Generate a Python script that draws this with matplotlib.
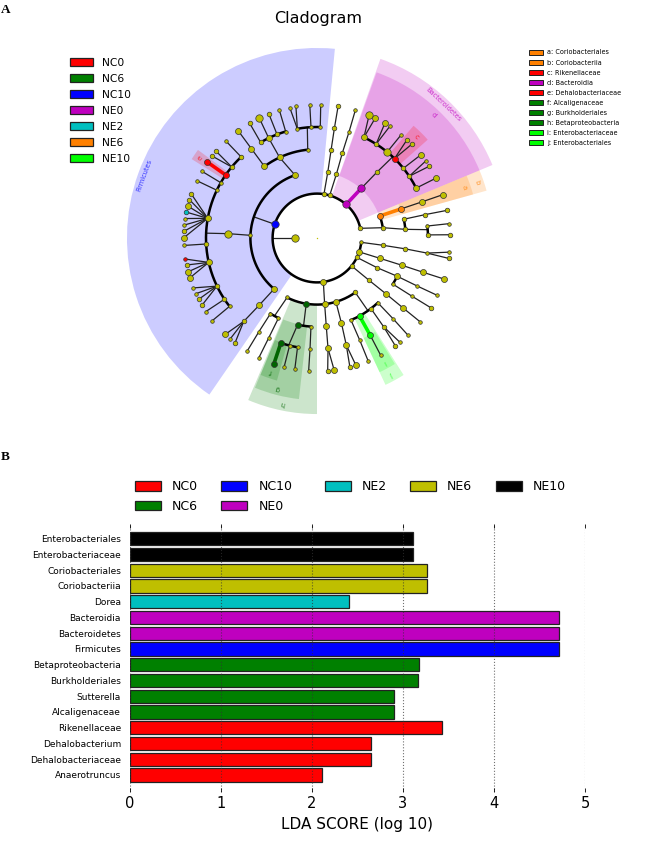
#!/usr/bin/env python
import numpy as np
import matplotlib
matplotlib.use("Agg")
import matplotlib.pyplot as plt
from matplotlib.patches import Patch

# LDA bars, listed from the top row down
taxa = ["Enterobacteriales", "Enterobacteriaceae", "Coriobacteriales", "Coriobacteriia",
        "Dorea", "Bacteroidia", "Bacteroidetes", "Firmicutes", "Betaproteobacteria",
        "Burkholderiales", "Sutterella", "Alcaligenaceae", "Rikenellaceae",
        "Dehalobacterium", "Dehalobacteriaceae", "Anaerotruncus"]
lda_scores = [3.11, 3.11, 3.26, 3.26, 2.41, 4.71, 4.71, 4.71, 3.175, 3.17, 2.906, 2.906,
              3.43, 2.645, 2.645, 2.115]
taxa_group = ["NE10", "NE10", "NE6", "NE6", "NE2", "NE0", "NE0", "NC10", "NC6", "NC6", "NC6",
              "NC6", "NC0", "NC0", "NC0", "NC0"]
groups = ["NC0", "NC6", "NC10", "NE0", "NE2", "NE6", "NE10"]
bar_colors = {"NC0": "#ff0000", "NC6": "#008000", "NC10": "#0000ff", "NE0": "#bf00bf",
              "NE2": "#00bfbf", "NE6": "#bfbf00", "NE10": "#000000"}
clade_colors = {"NC0": "#ff0000", "NC6": "#008000", "NC10": "#0000ff", "NE0": "#bf00bf",
                "NE2": "#00bfbf", "NE6": "#ff8000", "NE10": "#00ff00"}
node_colors = dict(clade_colors, NC6="#006400")

clade_key = ["a: Coriobacteriales", "b: Coriobacteriia", "c: Rikenellaceae", "d: Bacteroidia",
             "e: Dehalobacteriaceae", "f: Alcaligenaceae", "g: Burkholderiales",
             "h: Betaproteobacteria", "i: Enterobacteriaceae", "j: Enterobacteriales"]
clade_key_group = ["NE6", "NE6", "NC0", "NE0", "NC0", "NC6", "NC6", "NC6", "NE10", "NE10"]

# cladogram nodes per rank: (clock angle in degrees, abundance class, enriched group)
rank1 = [(-90, 4)]
rank2 = [(9, 2), (16.6, 2), (41, 4, "NE0"), (77.4, 2), (95.6, 1), (108.2, 3), (115.9, 2),
         (128.9, 2), (171.8, 3), (-72, 4, "NC10")]
rank3 = [(9.3, 2), (16.9, 2), (41.7, 4, "NE0"), (70.7, 3, "NE6"), (81.1, 2), (96.3, 2), (107.9, 3),
         (116.3, 2), (129.1, 2), (144.9, 2), (163.5, 3), (173.4, 3), (189.3, 3, "NC6"), (206.7, 1),
         (-19.3, 3), (-87.7, 1), (-139.9, 3)]
rank4 = [(9.1, 2), (16.6, 2), (42.3, 2), (70.9, 3, "NE6"), (77.8, 2), (84.4, 2), (97, 2), (107.8, 3),
         (115.5, 3), (121.3, 1), (129, 3), (136.8, 1), (142.6, 2), (151.4, 3, "NE10"), (157.5, 1),
         (164, 3), (174, 3), (183.9, 1), (192.6, 3, "NC6"), (205.7, 1), (211.6, 1), (-36.3, 3),
         (-24.9, 3), (-6, 1), (-87.2, 4), (-139.3, 3)]
rank5 = [(9, 2), (16.8, 1), (25, 3), (32.2, 2), (39.2, 4), (44.3, 3, "NC0"), (51.1, 2), (56.2, 2),
         (63.3, 3), (71, 3), (77.8, 2), (83.8, 1), (88.4, 2), (97.8, 1), (107.9, 3), (115.6, 1),
         (121.5, 1), (129.1, 3), (136.7, 1), (143.1, 2), (151.3, 3, "NE10"), (157.3, 1), (164.7, 3),
         (174.3, 3), (183.6, 1), (190.1, 1), (194.3, 1), (199, 3, "NC6"), (205.8, 1), (211.8, 1),
         (-36.3, 3), (-30.5, 2), (-25.8, 3), (-21.1, 2), (-16.4, 1), (-10.2, 1), (-3.1, 1), (1.7, 1),
         (-43.1, 2), (-50.2, 2), (-55.4, 3, "NC0"), (-60.1, 1), (-64.5, 1), (-79.8, 3), (-93.1, 2),
         (-102.7, 3), (-115.7, 2), (-123.5, 2), (-128, 1), (-138.7, 2)]
rank6 = [(9.1, 2), (16.7, 1), (23, 4), (25.9, 3), (30.6, 3), (33.1, 1), (39.2, 1), (42.5, 2), (45.3, 2),
         (51.3, 3), (54.7, 1), (57.4, 2), (63.3, 3), (71, 3), (78, 2), (83.8, 1), (88.6, 2), (96.1, 1),
         (98.8, 2), (107.9, 3), (115.5, 1), (121.5, 2), (129.1, 1), (136.9, 1), (141.5, 1), (144, 2),
         (151.5, 1), (157.4, 1), (163, 3), (165.7, 2), (172.6, 3), (175.4, 2), (183.6, 1), (189.6, 1),
         (194.3, 1), (198.9, 3, "NC6"), (205.9, 1), (211.7, 1), (-36.3, 3), (-30.4, 2), (-25.7, 4),
         (-21.2, 2), (-16.4, 1), (-11.8, 1), (-9.1, 1), (-3.1, 1), (1.6, 1), (-43.2, 1), (-49.3, 2),
         (-52, 2), (-55.3, 3, "NC0"), (-59.9, 1), (-64.5, 1), (-70.7, 2), (-73.3, 2), (-76.1, 3),
         (-78.8, 2, "NE2"), (-81.6, 1), (-84.4, 1), (-87.1, 2), (-89.9, 3), (-93.2, 1), (-99.1, 1, "NC0"),
         (-101.7, 2), (-104.7, 3), (-107.4, 3), (-112, 1), (-114.7, 1), (-117.4, 2), (-120.3, 2),
         (-123.5, 1), (-128.3, 1), (-136.4, 3), (-139.3, 1), (-142, 2)]
node_ranks = {1: rank1, 2: rank2, 3: rank3, 4: rank4, 5: rank5, 6: rank6}

# thin branches as chains of (rank, angle)
chains = [[(1, -90), (2, -90)],
          [(2, 9), (3, 9.3), (4, 9.1), (5, 9)], [(2, 16.6), (3, 16.9), (4, 16.6), (5, 16.8)],
          [(3, 41.7), (4, 42.3), (5, 43)], [(2, 77.4), (3, 81.1), (4, 84.4), (5, 85.7)],
          [(4, 70.9), (5, 71)], [(4, 77.8), (5, 77.8)],
          [(2, 95.6), (3, 96.3), (4, 97), (5, 97.8)], [(2, 108.2), (3, 107.9), (4, 107.8), (5, 107.9)],
          [(2, 115.9), (3, 116.3), (4, 115.5), (5, 115.6)], [(4, 121.3), (5, 121.5)],
          [(2, 128.9), (3, 129.1), (4, 129), (5, 129.1)],
          [(2, 171.8), (3, 173.4), (4, 174), (5, 174.3)], [(3, 144.9), (4, 145)],
          [(4, 136.8), (5, 136.7)], [(4, 142.6), (5, 143.1)], [(4, 157.5), (5, 157.3)],
          [(3, 163.5), (4, 164), (5, 164.7)], [(3, 189.3), (4, 188.7)], [(4, 183.9), (5, 183.6)],
          [(4, 192.6), (5, 194.8)], [(3, 206.7), (4, 208.6)], [(4, 205.7), (5, 205.8)],
          [(4, 211.6), (5, 211.8)], [(2, -72), (3, -71.5)], [(3, -19.3), (4, -24.9), (5, -25.8)],
          [(4, -36.3), (5, -36.3)], [(4, -6), (5, -5)], [(3, -87.7), (4, -87.2), (5, -87.5)],
          [(3, -139.9), (4, -139.3), (5, -138.7)]]

# leaves hanging off each rank 5 node
leaf_fans = {25: [23, 25.9], 32.2: [30.6, 33.1], 39.2: [39.2], 44.3: [42.5, 45.3], 51.1: [51.3],
             56.2: [54.7, 57.4], 63.3: [63.3], 71: [71], 77.8: [78], 83.8: [83.8], 88.4: [88.6],
             9: [9.1], 16.8: [16.7], 97.8: [96.1, 98.8], 107.9: [107.9], 115.6: [115.5], 121.5: [121.5],
             129.1: [129.1], 136.7: [136.9], 143.1: [141.5, 144], 151.3: [151.5], 157.3: [157.4],
             164.7: [163, 165.7], 174.3: [172.6, 175.4], 183.6: [183.6], 190.1: [189.6], 194.3: [194.3],
             205.8: [205.9], 211.8: [211.7], -36.3: [-36.3], -30.5: [-30.4], -25.8: [-25.7], -21.1: [-21.2],
             -16.4: [-16.4], -10.2: [-11.8, -9.1], -3.1: [-3.1], 1.7: [1.6], -43.1: [-43.2],
             -50.2: [-49.3, -52], -60.1: [-59.9], -64.5: [-64.5],
             -79.8: [-70.7, -73.3, -76.1, -78.8, -81.6, -84.4, -87.1, -89.9], -93.1: [-93.2],
             -102.7: [-99.1, -101.7, -104.7, -107.4], -115.7: [-112, -114.7, -117.4, -120.3],
             -123.5: [-123.5], -128: [-128.3], -138.7: [-136.4, -139.3, -142]}

# coloured thick branches: (rank, angle, rank, angle, group)
thick_branches = [(2, 41, 3, 41.7, "NE0"), (3, 70.7, 4, 70.9, "NE6"), (4, 151.4, 5, 151.3, "NE10"),
                  (5, 199, 6, 198.9, "NC6"), (5, -55.4, 6, -55.3, "NC0")]

# sibling arcs: (rank, start angle, end angle)
arcs = [(2, 95.6, 437.4), (3, 70.7, 81.1), (3, 144.9, 206.7), (3, -139.9, -19.3),
        (4, 77.8, 84.4), (4, 115.5, 121.3), (4, 136.8, 157.5), (4, 183.9, 192.6), (4, 205.7, 211.6),
        (4, -36.3, -6), (5, 25, 63.3), (5, 83.8, 88.4), (5, 190.1, 199), (5, -30.5, -16.4),
        (5, -10.2, 1.7), (5, -128, -43.1)]

# shaded clades: (rank, start angle, end angle, group, letter)
shades = [(2, -145.5, 5.4, "NC10", "Firmicutes"), (2, 19.5, 67.4, "NE0", "Bacteroidetes"),
          (3, 19.8, 67.4, "NE0", "d"), (3, 67.4, 74.4, "NE6", "b"), (4, 67.4, 74.4, "NE6", "a"),
          (5, 40.7, 48.4, "NC0", "c"), (5, -57.8, -53.5, "NC0", "e"), (3, 180, 203, "NC6", "h"),
          (4, 186.4, 202.5, "NC6", "g"), (5, 195.7, 202.4, "NC6", "f"),
          (4, 147.7, 155, "NE10", "j"), (5, 148.3, 155, "NE10", "i")]

W, H = 650, 849
fig = plt.figure(figsize=(W / 100, H / 100), dpi=100)

fig.text(1 / W, 1 - 10 / H, "A", family="Liberation Serif", weight="bold", size=9.5, va="center")
fig.text(1 / W, 1 - 457 / H, "B", family="Liberation Serif", weight="bold", size=9.5, va="center")
fig.text(318 / W, 1 - 18 / H, "Cladogram", size=11.5, ha="center", va="center")

# cladogram
rank_px = 22.2
rmax = 9
cx, cy = 317, 238
ax = fig.add_axes([(cx - rmax * rank_px) / W, 1 - (cy + rmax * rank_px) / H,
                   2 * rmax * rank_px / W, 2 * rmax * rank_px / H], polar=True)
ax.set_theta_zero_location("N")
ax.set_theta_direction(-1)


def outer_edge(rank):
    return 8.56 - 0.63 * (rank - 2)


for rank, a1, a2, group, label in shades:
    inner = rank - 0.03
    outer = outer_edge(rank)
    col = clade_colors[group]
    ax.bar(np.radians((a1 + a2) / 2), outer - inner, width=np.radians(a2 - a1), bottom=inner,
           color=col, alpha=0.2, linewidth=0.5, zorder=1)
    mid = (a1 + a2) / 2
    size = 4.8 if len(label) > 1 else 5
    ax.text(np.radians(mid), outer - 0.3, label, color=node_colors[group], size=size, rotation=-mid,
            alpha=0.75, rotation_mode="anchor", ha="center", va="center", zorder=6)

for chain in chains:
    ax.plot([np.radians(c[1]) for c in chain], [c[0] for c in chain], color="#222222", lw=0.9, zorder=2)
for parent, leaves in leaf_fans.items():
    for leaf in leaves:
        ax.plot(np.radians([parent, leaf]), [5, 6], color="#222222", lw=0.9, zorder=2)
for r1, a1, r2, a2, group in thick_branches:
    ax.plot(np.radians([a1, a2]), [r1, r2], color=node_colors[group], lw=2.6, zorder=3,
            solid_capstyle="butt")
for rank, a1, a2 in arcs:
    theta = np.radians(np.linspace(a1, a2, 200))
    ax.plot(theta, np.full_like(theta, rank), color="black", lw=1.8, zorder=3)

size_px = {1: 3.6, 2: 4.6, 3: 6, 4: 7.4}
for rank, nodes in node_ranks.items():
    for node in nodes:
        col = node_colors[node[2]] if len(node) > 2 else "#bfbf00"
        ax.scatter(np.radians(node[0]), rank, s=(size_px[node[1]] * 0.72) ** 2, color=col,
                   edgecolor="#333333", linewidth=0.5, zorder=4)
ax.scatter([0], [0], s=1, color="#bfbf00", linewidth=0, zorder=4)

ax.set_xlim(0, 2 * np.pi)
ax.set_rlim(0, rmax)
ax.set_axis_off()

fig.legend(handles=[Patch(facecolor=clade_colors[g], edgecolor="#222222", linewidth=0.9, label=g) for g in groups],
           loc="upper left", bbox_to_anchor=(70 / W, 1 - 58 / H), frameon=False, fontsize=7.7,
           borderpad=0, borderaxespad=0, labelspacing=0.56, handlelength=2.15, handleheight=0.75,
           handletextpad=0.85)
fig.legend(handles=[Patch(facecolor=clade_colors[g], edgecolor="#222222", linewidth=0.7, label=k)
                    for k, g in zip(clade_key, clade_key_group)],
           loc="upper left", bbox_to_anchor=(529 / W, 1 - 49.5 / H), frameon=False, fontsize=4.7,
           borderpad=0, borderaxespad=0, labelspacing=0.62, handlelength=2.15, handleheight=0.7,
           handletextpad=0.6)

# LDA bars
bx = fig.add_axes([130 / W, 1 - 792 / H, 455 / W, 268 / H])
ypos = np.arange(len(taxa))
bx.barh(ypos, lda_scores, height=0.84, color=[bar_colors[g] for g in taxa_group],
        edgecolor="#222222", linewidth=0.9, zorder=2)
bx.set_xlim(0, 5)
bx.set_ylim(15 + 1.08, -0.93)
bx.set_yticks(ypos)
bx.set_yticklabels(taxa, fontsize=6.5)
bx.set_xticks(range(6))
bx.tick_params(axis="y", length=0, pad=6.5)
bx.tick_params(axis="x", direction="in", top=True, length=3, width=0.6, labelsize=10.5, pad=3)
bx.grid(axis="x", linestyle=":", color="#333333", linewidth=0.8, alpha=0.7, zorder=3)
bx.set_axisbelow(False)
for spine in bx.spines.values():
    spine.set_visible(False)
bx.set_xlabel("LDA SCORE (log 10)", fontsize=11, labelpad=4)

# the top legend sits in two blocks because NE2 starts further right than the column spacing gives
for block, x0, cols in [(groups[:4], 135, 2), (groups[4:], 325, 3)]:
    fig.legend(handles=[Patch(facecolor=bar_colors[g], edgecolor="#222222", linewidth=0.9, label=g) for g in block],
               loc="upper left", bbox_to_anchor=(x0 / W, 1 - 480.5 / H), frameon=False, ncol=cols, fontsize=9,
               borderpad=0, borderaxespad=0, labelspacing=0.52, handlelength=2.08, handleheight=0.8,
               handletextpad=0.88, columnspacing=1.85)

plt.savefig("out.png", dpi=100)
